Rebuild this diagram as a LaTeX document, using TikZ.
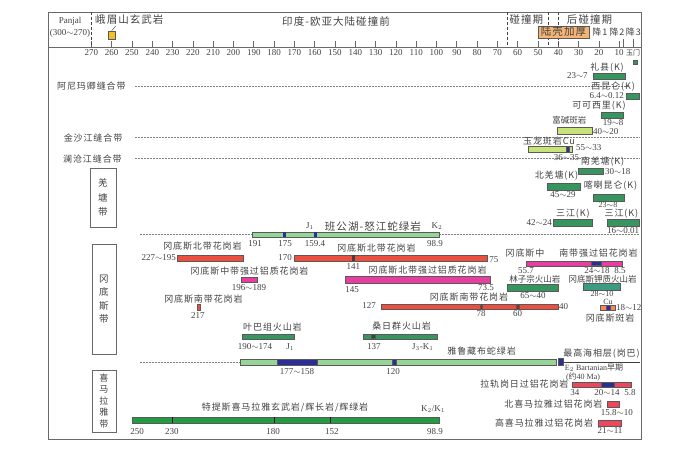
\documentclass[tikz,border=0pt]{standalone}
\usepackage{fontspec}
\setmainfont{Liberation Serif}
\newfontfamily\cjk[LetterSpace=10]{Noto Sans CJK SC}
\newfontfamily\cjknarrow{Noto Sans CJK SC}
\definecolor{txtgray}{RGB}{65,65,65}
\definecolor{framegray}{RGB}{105,105,105}
\definecolor{ophgreen}{RGB}{150,212,152}
\definecolor{kgreen}{RGB}{55,150,95}
\definecolor{tealgreen}{RGB}{60,155,130}
\definecolor{tgreen}{RGB}{35,155,65}
\definecolor{ylgreen}{RGB}{200,228,120}
\definecolor{grred}{RGB}{238,78,62}
\definecolor{grpink}{RGB}{232,62,160}
\definecolor{himred}{RGB}{238,70,90}
\definecolor{segblue}{RGB}{45,45,150}
\definecolor{crustorange}{RGB}{245,180,115}
\definecolor{yellowsq}{RGB}{245,190,40}
\tikzset{
  frame/.style={draw=framegray, line width=0.6pt},
  phase/.style={draw=txtgray, dash pattern=on 3pt off 2pt, line width=0.5pt},
  suture/.style={draw=gray, dash pattern=on 2pt off 1pt, line width=0.4pt},
  agebar/.style={draw=black!65, line width=0.4pt},
  lbl/.style={font=\cjk\fontsize{9}{10}\selectfont, text=txtgray, inner sep=0pt},
  narrowlbl/.style={font=\cjknarrow\fontsize{8.5}{10}\selectfont, text=txtgray, inner sep=0pt},
  head/.style={font=\cjk\fontsize{10.5}{12}\selectfont, text=txtgray, inner sep=0pt},
  num/.style={font=\fontsize{9}{10}\selectfont, text=txtgray, inner sep=0pt},
  smallnum/.style={font=\fontsize{8}{9}\selectfont, text=txtgray, inner sep=0pt},
  zonebox/.style={draw=framegray, line width=0.6pt, text=txtgray, align=center, inner sep=0pt}
}
\begin{document}
\begin{tikzpicture}[x=-2.03pt, y=-1pt]
  \useasboundingbox (315.02,0) rectangle (-29.80,465);
  % frame and time axis
  \draw[frame] (291.4,12) rectangle (-0.7,439);
  \draw[frame] (291.4,47) -- (-0.7,47);
  \foreach \age in {10,20,...,270} {
    \draw[frame] (\age,41) -- (\age,47);
    \node[num] (tick\age) at (\age,53) {\age};
  }
  \draw[frame] (8,39) -- (8,47);
  \draw[frame] (3,39) -- (3,47);
  % header
  \node[num] (panjal) at (280.5,21) {Panjal};
  \node[num] (panjalage) at (280.5,33) {(300$\sim$270)};
  \draw[phase] (270,12) -- (270,47);
  \node[head, anchor=west] (emeishan) at (268.2,20) {峨眉山玄武岩};
  \node[agebar, fill=yellowsq, minimum width=7pt, minimum height=8pt, inner sep=0pt] (emsq) at (260,35) {};
  \coordinate (emfoot) at (258,26);
  \draw[txtgray] (emfoot) -- (emsq.north);
  \node[head] (precoll) at (149.5,22) {印度-欧亚大陆碰撞前};
  \draw[phase] (65,12) -- (65,47);
  \node[head] (syncoll) at (55.7,20) {碰撞期};
  \draw[phase] (45,12) -- (45,47);
  \draw[phase] (40,12) -- (40,47);
  \node[head] (postcoll) at (24.6,20) {后碰撞期};
  \node[agebar, head, fill=crustorange, minimum width=51pt, minimum height=12pt] (crust) at (37.45,32) {陆壳加厚};
  \node[lbl] (drop1) at (19.5,32) {降1};
  \node[lbl] (drop2) at (11.1,32) {降2};
  \node[lbl] (drop3) at (3,32) {降3};
  \node[lbl, font=\cjknarrow\fontsize{7}{8}\selectfont] (yumen) at (3.2,53) {玉门};
  \draw[agebar, fill=kgreen] (3.2,60) rectangle (1.2,64);
  % sutures and zones
  \draw[suture] (248.5,86) -- (5,86);
  \node[lbl] (anyimaqen) at (270,86) {阿尼玛卿缝合带};
  \draw[suture] (248.5,137) -- (0,137);
  \node[lbl] (jinsha) at (269.2,138) {金沙江缝合带};
  \draw[suture] (248.5,158) -- (0,158);
  \node[lbl] (lancang) at (269.5,159) {澜沧江缝合带};
  \node[zonebox, minimum width=26pt, minimum height=59pt, font=\cjk\fontsize{9.5}{14.5}\selectfont] (qiangtang) at (264.3,197.5) {羌\\塘\\带};
  \node[zonebox, minimum width=24pt, minimum height=110pt, font=\cjk\fontsize{9.5}{13.5}\selectfont] (gangdese) at (263.8,299) {冈\\底\\斯\\带};
  \node[zonebox, minimum width=24pt, minimum height=62pt, font=\cjk\fontsize{9}{11.5}\selectfont] (himalaya) at (263.8,401) {喜\\马\\拉\\雅\\带};
  % Kunlun - Songpan
  \node[lbl] (lixian) at (16,68) {礼县(K)};
  \draw[agebar, fill=kgreen] (23,73) rectangle (7,79);
  \node[num, anchor=east] (lixianage) at (25.4,76) {23$\sim$7};
  \node[lbl] (xikunlun) at (13,87) {西昆仑(K)};
  \draw[agebar, fill=kgreen] (6.4,93) rectangle (0.12,99);
  \node[num, anchor=east] (xikunlunage) at (7.6,96) {6.4$\sim$0.12};
  \node[lbl] (hohxil) at (20,106) {可可西里(K)};
  \draw[agebar, fill=kgreen] (19,112) rectangle (8,118);
  \node[num] (hohxilage) at (13,122.5) {19$\sim$8};
  \node[narrowlbl] (fujian) at (34.5,120) {富碱斑岩};
  \draw[agebar, fill=ylgreen] (40.5,127) rectangle (23.5,134);
  \node[num, anchor=west] (fujianage) at (22.9,132) {40$\sim$20};
  \node[lbl] (yulong) at (44.6,141) {玉龙斑岩Cu};
  \draw[agebar, fill=ylgreen] (55,146) rectangle (33,152);
  \draw[agebar, fill=segblue] (36.2,146) rectangle (34.7,152);
  \node[num, anchor=west] (yulongage) at (31.3,148) {55$\sim$33};
  \node[num] (yulongcu) at (36,158) {36$\sim$35};
  % Qiangtang
  \node[lbl] (sqiangtang) at (18.2,162) {南羌塘(K)};
  \draw[agebar, fill=kgreen] (30,168) rectangle (18,174);
  \node[num, anchor=west] (sqiangtangage) at (17,172) {30$\sim$18};
  \node[lbl] (nqiangtang) at (40.9,176) {北羌塘(K)};
  \draw[agebar, fill=kgreen] (45.5,183) rectangle (29,190);
  \node[num] (nqiangtangage) at (37.7,195) {45$\sim$29};
  \node[lbl] (karakorum) at (14.3,186) {喀喇昆仑(K)};
  \draw[agebar, fill=kgreen] (23,194) rectangle (7.6,201);
  \node[smallnum] (karakorumage) at (15.5,204.5) {23$\sim$8};
  \node[lbl] (sanjiangl) at (32.8,213.5) {三江(K)};
  \draw[agebar, fill=kgreen] (42.5,219) rectangle (23.5,226);
  \node[num, anchor=east] (sanjianglage) at (43.1,223) {42$\sim$24};
  \node[lbl] (sanjiangr) at (8.9,213.5) {三江(K)};
  \draw[agebar, fill=kgreen] (16,219) rectangle (0.25,226);
  \node[num] (sanjiangrage) at (8.1,231) {16$\sim$0.01};
  % Bangong - Nujiang
  \draw[suture] (246,234.5) -- (191,234.5);
  \draw[suture] (98.9,234.5) -- (0,234.5);
  \draw[agebar, fill=ophgreen] (191,232) rectangle (98.9,237);
  \fill[segblue] (175.7,232) rectangle (174.3,237);
  \fill[segblue] (160.1,232) rectangle (158.7,237);
  \node[num] (bnjone) at (162.3,226) {J$_1$};
  \node[head] (bangong) at (131.3,226) {班公湖-怒江蛇绿岩};
  \node[num] (bnktwo) at (99.8,226) {K$_2$};
  \node[num] (bn191) at (189.4,244) {191};
  \node[num] (bn175) at (174.6,244) {175};
  \node[num] (bn159) at (159.9,244) {159.4};
  \node[num] (bn989) at (100.7,244) {98.9};
  % Gangdese
  \node[lbl] (gnorthl) at (215.3,246) {冈底斯北带花岗岩};
  \draw[agebar, fill=grred] (227.5,255) rectangle (195.3,261);
  \node[num, anchor=east] (gnorthlage) at (228.3,258) {227$\sim$195};
  \node[lbl] (gnorthr) at (129.6,248) {冈底斯北带花岗岩};
  \draw[agebar, fill=grred] (170,255) rectangle (75,261);
  \fill[black!75] (141.7,255) rectangle (140.3,261);
  \node[num, anchor=east] (gnorthr170) at (171.2,258) {170};
  \node[num, anchor=west] (gnorthr75) at (74.1,260) {75};
  \node[num] (gnorthr141) at (141,267) {141};
  \node[lbl] (gmidper) at (192.1,271) {冈底斯中带强过铝质花岗岩};
  \draw[agebar, fill=grpink] (196.3,277) rectangle (188.4,282);
  \node[num] (gmidperage) at (192.4,288) {196$\sim$189};
  \node[lbl] (gnorthper) at (104.4,270) {冈底斯北带强过铝质花岗岩};
  \draw[agebar, fill=grpink] (145,276) rectangle (73.5,283);
  \node[num] (gnorthper145) at (141.6,290) {145};
  \node[num] (gnorthper735) at (75.6,288) {73.5};
  \node[lbl] (gsouthl) at (214.8,299) {冈底斯南带花岗岩};
  \draw[agebar, fill=grred] (218,304) rectangle (216.5,310);
  \node[num] (gsouthlage) at (217.5,316) {217};
  \node[lbl] (gsouthr) at (84,297) {冈底斯南带花岗岩};
  \draw[agebar, fill=grred] (127,304) rectangle (40,309);
  \draw[agebar, fill=grred!60!black] (78.7,304) rectangle (77.3,309);
  \draw[agebar, fill=grred!60!black] (60.7,304) rectangle (59.3,309);
  \node[num, anchor=east] (gsouthr127) at (129.8,306) {127};
  \node[num, anchor=west] (gsouthr40) at (39.7,307) {40};
  \node[num] (gsouthr78) at (78,314) {78};
  \node[num] (gsouthr60) at (60,314) {60};
  \node[lbl] (gcsone) at (56.4,253) {冈底斯中};
  \node[lbl] (gcstwo) at (20.2,253) {南带强过铝花岗岩};
  \draw[agebar, fill=grpink] (55.7,261) rectangle (8.5,266);
  \draw[agebar, fill=segblue] (24,261.5) rectangle (19,265.5);
  \node[num] (gcs557) at (55.9,271) {55.7};
  \node[num] (gcs2418) at (20.9,271) {24$\sim$18};
  \node[num] (gcs85) at (9.6,271) {8.5};
  \node[narrowlbl] (linzizong) at (51.5,279) {林子宗火山岩};
  \draw[agebar, fill=kgreen] (65,284) rectangle (40,291);
  \node[num] (linzizongage) at (52.5,296) {65$\sim$40};
  \node[narrowlbl] (gpotassic) at (18.2,279) {冈底斯钾质火山岩};
  \draw[agebar, fill=tealgreen] (27.8,283) rectangle (9.6,290);
  \node[smallnum] (gpotassicage) at (18.5,293.5) {28$\sim$10};
  \node[smallnum] (gporcu) at (15.5,301.5) {Cu};
  \draw[agebar, fill=crustorange!75!red] (19.5,305) rectangle (12,310);
  \draw[agebar, fill=segblue] (16.5,305) rectangle (14.5,310);
  \node[num, anchor=west] (gporage) at (11.6,308) {18$\sim$12};
  \node[lbl] (gporphyry) at (14.5,318) {冈底斯斑岩};
  % volcanics and Yarlung Zangbo
  \node[lbl] (yeba) at (180.8,327) {叶巴组火山岩};
  \draw[agebar, fill=kgreen] (195.8,334) rectangle (170.2,339);
  \node[num] (yebaage) at (189.4,347) {190$\sim$174};
  \node[num] (yebaj) at (172,347) {J$_1$};
  \node[lbl] (sangri) at (117.2,326) {桑日群火山岩};
  \draw[agebar, fill=kgreen] (136.2,334) rectangle (99.8,339);
  \draw[agebar, fill=kgreen!55!black] (132.2,334.5) rectangle (130.4,338.5);
  \node[num] (sangri137) at (130.8,347) {137};
  \node[num] (sangrijk) at (106.7,347) {J$_3$-K$_1$};
  \draw[suture] (246,362) -- (196.8,362);
  \draw[agebar, fill=ophgreen] (196.8,359) rectangle (41.1,365);
  \draw[agebar, fill=segblue] (178.6,359) rectangle (158.9,365);
  \draw[agebar, fill=segblue] (121.9,359) rectangle (120,365);
  \draw[agebar, fill=segblue] (40.1,358) rectangle (37.7,365);
  \draw[txtgray, line width=0.4pt] (37.7,362) -- (0,362);
  \node[num] (yz177) at (168.7,372) {177$\sim$158};
  \node[num] (yz120) at (121.4,372) {120};
  \node[lbl] (yarlung) at (77.8,351) {雅鲁藏布蛇绿岩};
  \node[lbl] (gamba) at (18.7,354) {最高海相层(岗巴)};
  \node[smallnum, anchor=west] (gambae) at (36.8,367.5) {E$_2$ Bartanian{\cjknarrow 早期}};
  \node[smallnum, anchor=west] (gambaage) at (36.3,376.5) {({\cjknarrow 约}40 Ma)};
  % Himalaya
  \node[lbl] (lhagoi) at (56.7,384) {拉轨岗日过铝花岗岩};
  \draw[agebar, fill=himred] (33,382) rectangle (4.2,387);
  \draw[agebar, fill=segblue] (19,382) rectangle (12.6,387);
  \node[num] (lhagoi34) at (31.8,392.5) {34};
  \node[num] (lhagoi2014) at (16,392.5) {20$\sim$14};
  \node[num] (lhagoi58) at (4.7,392.5) {5.8};
  \node[lbl] (nhim) at (42.4,404) {北喜马拉雅过铝花岗岩};
  \draw[agebar, fill=himred] (16,401) rectangle (10.1,407);
  \node[num] (nhimage) at (11.1,413) {15.8$\sim$10};
  \node[lbl] (hhim) at (47,423) {高喜马拉雅过铝花岗岩};
  \draw[agebar, fill=himred] (20.4,420) rectangle (9.1,426);
  \node[num] (hhimage) at (14.5,431) {21$\sim$11};
  \node[lbl] (tethys) at (174.6,407) {特提斯喜马拉雅玄武岩/辉长岩/辉绿岩};
  \node[num] (tethysk) at (101.7,409) {K$_2$/K$_1$};
  \draw[agebar, fill=tgreen] (250,417) rectangle (98.9,423);
  \foreach \age in {230,180,152}
    \draw[violet!50!black, line width=1pt] (\age,417) -- (\age,423);
  \node[num] (tethys250) at (247.5,432) {250};
  \node[num] (tethys230) at (230.3,432) {230};
  \node[num] (tethys180) at (180.5,432) {180};
  \node[num] (tethys152) at (151.5,432) {152};
  \node[num] (tethys989) at (100.7,432) {98.9};
\end{tikzpicture}
\end{document}
